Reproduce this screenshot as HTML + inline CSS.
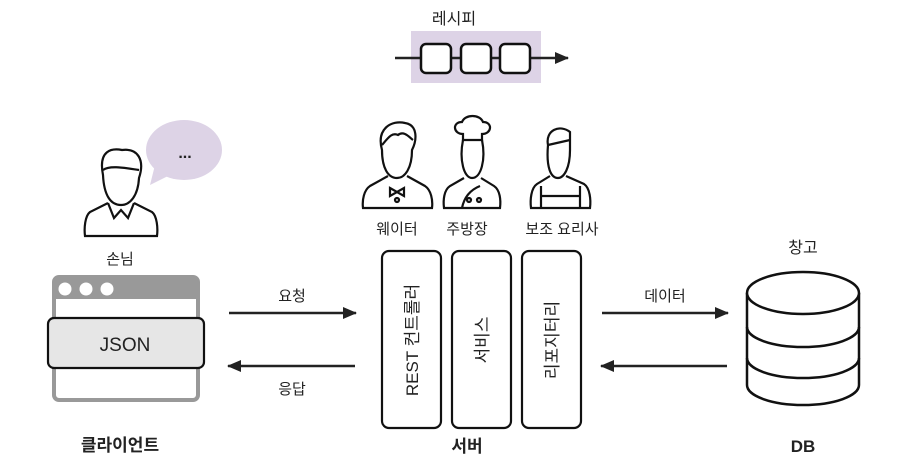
<!DOCTYPE html>
<html><head><meta charset="utf-8"><style>
html,body{margin:0;padding:0;background:#fff;width:914px;height:462px;overflow:hidden}
svg{display:block}
text{font-family:"Liberation Sans","Noto Sans CJK KR",sans-serif;fill:#222}
</style></head><body>
<svg width="914" height="462" viewBox="0 0 914 462" xmlns="http://www.w3.org/2000/svg">
<defs>
<marker id="ah" markerWidth="14" markerHeight="14" refX="13" refY="7" orient="auto" markerUnits="userSpaceOnUse">
<path d="M0,1 L14,7 L0,13 Z" fill="#222"/></marker>
</defs>
<text x="454" y="24" font-size="16" text-anchor="middle">레시피</text>
<rect x="411" y="31" width="130" height="52" fill="#ddd3e6"/>
<line x1="395" y1="58" x2="568" y2="58" stroke="#222" stroke-width="2.5" marker-end="url(#ah)"/>
<rect x="421" y="44" width="30" height="29" rx="5" fill="#fff" stroke="#111" stroke-width="2.5"/>
<rect x="461" y="44" width="30" height="29" rx="5" fill="#fff" stroke="#111" stroke-width="2.5"/>
<rect x="500" y="44" width="30" height="29" rx="5" fill="#fff" stroke="#111" stroke-width="2.5"/>
<ellipse cx="184" cy="150" rx="38" ry="30" fill="#ddd3e6"/>
<path d="M155,165 L150,185 L170,175 Z" fill="#ddd3e6"/>
<text x="185" y="158" font-size="16" text-anchor="middle" font-weight="bold">...</text>
<g fill="none" stroke="#111" stroke-width="2.2">
<path d="M103,175 C98,150 112,148 122,150 C138,148 145,160 139,178 C138,196 130,205 121,205 C111,205 104,196 103,175 Z"/>
<path d="M103,170 C110,165 125,168 139,170"/>
<path d="M108,203 L90,212 C85,216 84,228 85,236 L157,236 C158,228 157,216 152,212 L134,203"/>
<path d="M108,203 L114,218 L121,210 L128,218 L134,203"/>
</g>
<text x="120" y="264" font-size="15" text-anchor="middle">손님</text>
<rect x="54" y="277" width="144" height="123" rx="5" fill="#fff" stroke="#999" stroke-width="4"/>
<rect x="54" y="277" width="144" height="22" fill="#999"/>
<circle cx="65" cy="289" r="6.5" fill="#fff"/><circle cx="86" cy="289" r="6.5" fill="#fff"/><circle cx="107" cy="289" r="6.5" fill="#fff"/>
<rect x="48" y="318" width="156" height="50" rx="6" fill="#e6e6e6" stroke="#111" stroke-width="2.2"/>
<text x="125" y="351" font-size="19" text-anchor="middle">JSON</text>
<text x="120" y="451" font-size="17" text-anchor="middle" font-weight="bold">클라이언트</text>
<line x1="229" y1="313" x2="356" y2="313" stroke="#222" stroke-width="2.5" marker-end="url(#ah)"/>
<line x1="355" y1="366" x2="228" y2="366" stroke="#222" stroke-width="2.5" marker-end="url(#ah)"/>
<text x="292" y="301" font-size="15" text-anchor="middle">요청</text>
<text x="292" y="394" font-size="15" text-anchor="middle">응답</text>
<g fill="none" stroke="#111" stroke-width="2.2">
<path d="M382,150 C376,128 392,120 405,123 C418,125 417,140 412,150 C412,168 405,178 397,178 C388,178 382,168 382,150 Z"/>
<path d="M382,145 C388,138 392,132 398,135 C404,130 410,138 413,140"/>
<path d="M388,176 L370,186 C364,190 362,200 363,208 L432,208 C433,200 431,190 425,186 L407,176"/>
<path d="M390,188 L397,192 L404,188 L404,196 L397,192 L390,196 Z"/>
<circle cx="397" cy="200" r="2"/>
<path d="M463,134 C453,134 452,122 462,122 C465,114 480,114 483,122 C493,122 492,134 482,134 L482,140 L463,140 Z"/>
<path d="M463,140 C459,160 464,178 472,178 C481,178 486,160 482,140"/>
<path d="M464,178 L450,186 C444,190 443,200 444,208 L500,208 C501,200 500,190 494,186 L481,178"/>
<path d="M480,186 C470,190 464,198 462,208"/><circle cx="469" cy="200" r="2"/><circle cx="479" cy="200" r="2"/>
<path d="M548,145 C545,130 560,124 570,132 L570,150 C570,168 564,178 558,178 C551,178 546,168 548,145 Z"/>
<path d="M548,145 L570,140"/>
<path d="M550,176 L537,184 C531,188 530,200 531,208 L590,208 C591,200 590,188 584,184 L566,176"/>
<path d="M541,186 L541,208 M580,186 L580,208 M541,196 L580,196"/>
</g>
<text x="397" y="234" font-size="15" text-anchor="middle">웨이터</text>
<text x="467" y="234" font-size="15" text-anchor="middle">주방장</text>
<text x="562" y="234" font-size="15" text-anchor="middle">보조 요리사</text>
<g fill="#fff" stroke="#111" stroke-width="2.2">
<rect x="382" y="251" width="59" height="177" rx="7"/>
<rect x="452" y="251" width="59" height="177" rx="7"/>
<rect x="522" y="251" width="59" height="177" rx="7"/>
</g>
<text transform="translate(418,340) rotate(-90)" font-size="17" text-anchor="middle">REST 컨트롤러</text>
<text transform="translate(488,340) rotate(-90)" font-size="17" text-anchor="middle">서비스</text>
<text transform="translate(558,340) rotate(-90)" font-size="17" text-anchor="middle">리포지터리</text>
<text x="467" y="452" font-size="17" text-anchor="middle" font-weight="bold">서버</text>
<line x1="602" y1="313" x2="728" y2="313" stroke="#222" stroke-width="2.5" marker-end="url(#ah)"/>
<line x1="727" y1="366" x2="601" y2="366" stroke="#222" stroke-width="2.5" marker-end="url(#ah)"/>
<text x="665" y="301" font-size="15" text-anchor="middle">데이터</text>
<g fill="#fff" stroke="#111" stroke-width="2.5">
<path d="M747,293 L747,385 A56,20 0 0 0 859,385 L859,293"/>
<path d="M747,327 A56,20 0 0 0 859,327" fill="none"/>
<path d="M747,358 A56,20 0 0 0 859,358" fill="none"/>
<ellipse cx="803" cy="293" rx="56" ry="21"/>
</g>
<text x="803" y="253" font-size="16" text-anchor="middle">창고</text>
<text x="803" y="452" font-size="17" text-anchor="middle" font-weight="bold">DB</text>
</svg>
</body></html>
